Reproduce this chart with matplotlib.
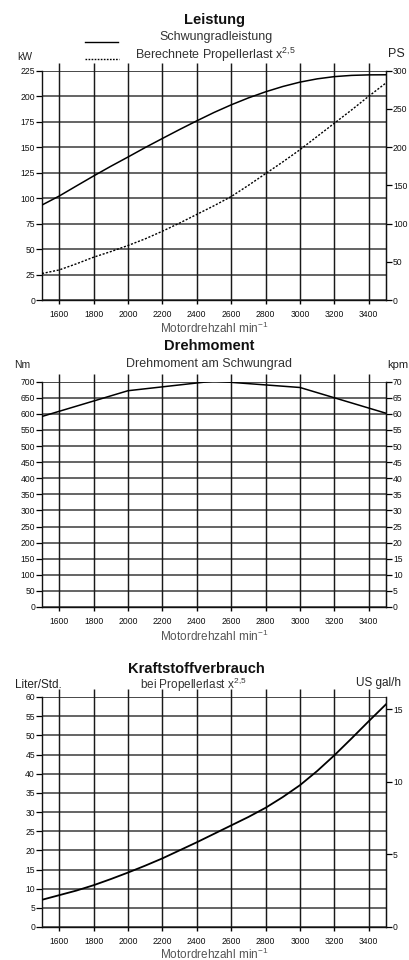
import matplotlib
matplotlib.use("Agg")
import matplotlib.pyplot as plt
from matplotlib.lines import Line2D

plt.rcParams['font.family'] = ['Liberation Sans', 'DejaVu Sans']
plt.rcParams['mathtext.fontset'] = 'custom'
plt.rcParams['mathtext.rm'] = 'Liberation Sans'
plt.rcParams['mathtext.it'] = 'Liberation Sans'
plt.rcParams['mathtext.bf'] = 'Liberation Sans:bold'

# ---------------- data ----------------
rpm = [1500, 1600, 1700, 1800, 1900, 2000, 2100, 2200, 2300, 2400, 2500,
       2600, 2700, 2800, 2900, 3000, 3100, 3200, 3300, 3400, 3500]
power_flywheel_kw = [93.2, 102, 111.9, 121.7, 131.2, 140.3, 149.6, 158.5, 167.3, 175.8, 184,
                     191.5, 198.3, 204.3, 209.5, 213.8, 217, 219.2, 220.4, 220.9, 221]
power_propeller_kw = [26, 29.5, 35.5, 42, 47.5, 53.5, 60, 67.5, 75.5, 84, 92.5,
                      101.5, 112.5, 124, 135.5, 147.5, 160.5, 173.5, 186.5, 200, 213]

torque_rpm = [1500, 1800, 2000, 2200, 2400, 2500, 2800, 3000, 3200, 3400, 3500]
torque_nm = [592, 640, 672, 684, 696, 702, 690, 682, 650, 618, 602]

fuel_lph = [7.1, 8.3, 9.5, 10.9, 12.5, 14.2, 16.0, 17.9, 20.0, 22.1, 24.3,
            26.5, 28.7, 31.1, 33.9, 37.0, 40.7, 44.8, 49.2, 53.7, 58.1]

xticks = [1600, 1800, 2000, 2200, 2400, 2600, 2800, 3000, 3200, 3400]
kw_ticks = [0, 25, 50, 75, 100, 125, 150, 175, 200, 225]
ps_ticks = [0, 50, 100, 150, 200, 250, 300]
nm_ticks = list(range(0, 701, 50))
kpm_ticks = list(range(0, 71, 5))
lph_ticks = list(range(0, 61, 5))
gal_ticks = [0, 5, 10, 15]
LITER_PER_GAL = 3.785

W, H = 410, 960
fig = plt.figure(figsize=(W / 100, H / 100), dpi=100)


def fx(px):
    return px / W


def fy(py):
    return 1 - py / H


TICKC = '#111111'
LABC = '#555555'


def make_panel(top_px, bot_px, ylim, yticks, r_lim, r_ticks):
    ax = fig.add_axes([fx(42), fy(bot_px), fx(344), (bot_px - top_px) / H])
    ax.set_xlim(1500, 3500)
    ax.set_ylim(*ylim)
    ax.set_yticks(yticks)
    ax.set_xticks(xticks)
    ax.set_xticklabels([str(t) for t in xticks], fontsize=6.2, color=TICKC)
    ax.set_yticklabels([str(t) for t in yticks], fontsize=6.2, color=TICKC)
    ax.tick_params(axis='y', direction='out', length=4, width=0.9, pad=1)
    ax.tick_params(axis='x', direction='out', length=3, width=1.0, pad=4)
    ax.yaxis.grid(True, color='#3a3a3a', lw=1.1)
    ax.set_axisbelow(True)
    for s in ['left', 'right', 'bottom']:
        ax.spines[s].set_color('#111111')
        ax.spines[s].set_linewidth(1.0)
    ax.spines['top'].set_visible(False)
    ax.axhline(ylim[1], color='#4a4a4a', lw=1.3, zorder=1)
    span = ylim[1] - ylim[0]
    ax.vlines(xticks, ylim[0], ylim[1] + span * 0.033, colors='#1a1a1a', lw=1.05,
              clip_on=False, zorder=1)
    ar = ax.twinx()
    ar.set_ylim(*r_lim)
    ar.set_yticks(r_ticks)
    ar.set_yticklabels([str(t) for t in r_ticks], fontsize=6.2, color=TICKC)
    ar.tick_params(axis='y', direction='out', length=4, width=0.9, pad=1)
    for s in ['left', 'top', 'bottom']:
        ar.spines[s].set_visible(False)
    ar.spines['right'].set_color('#111111')
    return ax, ar


# ---------------- Panel 1: Leistung ----------------
ax1, ar1 = make_panel(70.7, 300, (0, 225), kw_ticks, (0, 300), ps_ticks)
ax1.plot(rpm, power_flywheel_kw, color='black', lw=1.1, zorder=3)
ax1.plot(rpm, power_propeller_kw, color='black', lw=1.0, ls=(0, (1.5, 1.2)), zorder=3)
fig.text(fx(215), fy(20), 'Leistung', ha='center', va='center', fontsize=10.5,
         fontweight='bold', color='#111111')
fig.text(fx(216), fy(37), 'Schwungradleistung', ha='center', va='center',
         fontsize=9, color='#333333')
fig.text(fx(135), fy(55), r'Berechnete Propellerlast x$^{2{,}5}$', ha='left',
         va='center', fontsize=9, color='#333333')
fig.add_artist(Line2D([fx(85), fx(118)], [fy(42), fy(42)], color='black', lw=1.0))
fig.add_artist(Line2D([fx(85), fx(119)], [fy(59), fy(59)], color='black', lw=1.0,
                      ls=(0, (1.2, 1.0))))
fig.text(fx(25), fy(57), 'kW', ha='center', va='center', fontsize=7.5, color='#222222')
fig.text(fx(396), fy(54), 'PS', ha='center', va='center', fontsize=9, color='#222222')
fig.text(fx(214), fy(328), r'Motordrehzahl min$^{-1}$', ha='center', va='center',
         fontsize=8.5, color=LABC)

# ---------------- Panel 2: Drehmoment ----------------
ax2, ar2 = make_panel(381.7, 607, (0, 700), nm_ticks, (0, 70), kpm_ticks)
ax2.plot(torque_rpm, torque_nm, color='black', lw=1.1, zorder=3)
fig.text(fx(209), fy(346), 'Drehmoment', ha='center', va='center', fontsize=10.5,
         fontweight='bold', color='#111111')
fig.text(fx(209), fy(364), 'Drehmoment am Schwungrad', ha='center', va='center',
         fontsize=9, color='#333333')
fig.text(fx(22), fy(365), 'Nm', ha='center', va='center', fontsize=7.5, color='#222222')
fig.text(fx(398), fy(365), 'kpm', ha='center', va='center', fontsize=8, color='#222222')
fig.text(fx(214), fy(636), r'Motordrehzahl min$^{-1}$', ha='center', va='center',
         fontsize=8.5, color=LABC)

# ---------------- Panel 3: Kraftstoffverbrauch ----------------
ax3, ar3 = make_panel(697, 927, (0, 60), lph_ticks, (0, 60 / LITER_PER_GAL), gal_ticks)
ax3.plot(rpm, fuel_lph, color='black', lw=1.3, zorder=3)
fig.text(fx(196), fy(669), 'Kraftstoffverbrauch', ha='center', va='center',
         fontsize=10.5, fontweight='bold', color='#111111')
fig.text(fx(193), fy(685), r'bei Propellerlast x$^{2{,}5}$', ha='center', va='center',
         fontsize=8.5, color='#333333')
fig.text(fx(38), fy(685), 'Liter/Std.', ha='center', va='center', fontsize=8.5,
         color='#222222')
fig.text(fx(379), fy(683), 'US gal/h', ha='center', va='center', fontsize=8.5,
         color='#222222')
fig.text(fx(214), fy(954), r'Motordrehzahl min$^{-1}$', ha='center', va='center',
         fontsize=8.5, color=LABC)

fig.savefig('out.png', dpi=100, facecolor='white')
